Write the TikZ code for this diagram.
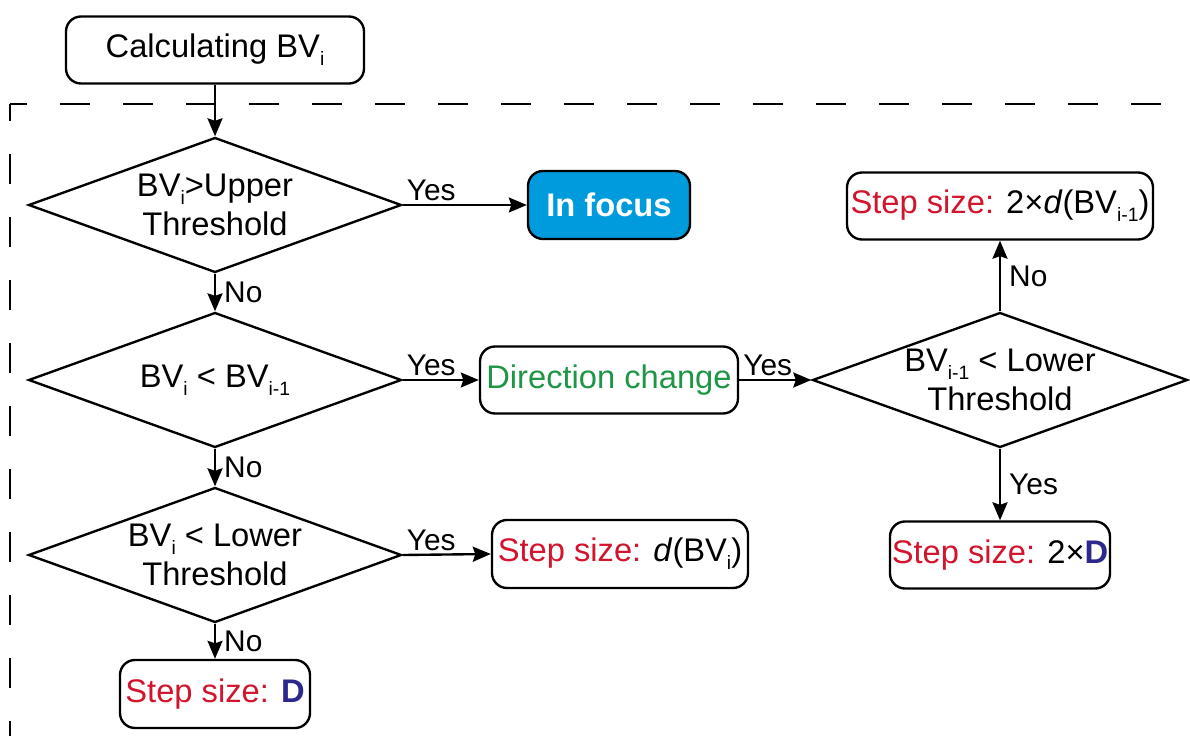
\documentclass[tikz,border=0pt]{standalone}
\usepackage{fontspec}
\setmainfont{Liberation Sans}
\usetikzlibrary{shapes.geometric,arrows.meta}
\definecolor{focusblue}{RGB}{0,155,220}
\definecolor{stepred}{RGB}{210,20,45}
\definecolor{dirgreen}{RGB}{30,150,70}
\definecolor{dblue}{RGB}{45,40,140}
\newcommand{\sbs}[1]{\raisebox{-0.45ex}{\fontsize{11}{11}\selectfont #1}}

\begin{document}
\begin{tikzpicture}[line width=1.35pt,
	box/.style={draw, rounded corners=0.3cm, minimum height=1.34cm, inner sep=0pt, font=\fontsize{18.6}{22}\selectfont},
	dia/.style={draw, diamond, aspect=2.76, minimum width=7.46cm, minimum height=2.7cm, inner sep=0pt},
	txt/.style={align=center, inner sep=0pt, font=\fontsize{18.6}{22}\selectfont},
	yeslbl/.style={font=\fontsize{17}{18}\selectfont, inner sep=0.06cm, pos=0, anchor=south west},
	nolbl/.style={font=\fontsize{17}{18}\selectfont, inner xsep=0.16cm, inner ysep=0pt, midway, right},
	arr/.style={-{Stealth[length=0.36cm, width=0.3cm, inset=0.05cm]}}]
		\useasboundingbox (0,0) rectangle (23.8,-14.72);

		\draw[dash pattern=on 0.6cm off 0.66cm, dash phase=0.26cm] (0.2,-2.08) -- (24,-2.08);
		\draw[dash pattern=on 0.6cm off 0.66cm, dash phase=0.26cm] (0.2,-2.08) -- (0.2,-15);

		\draw (4.3,-1.0) node[box, minimum width=5.96cm] (calc) {Calculating BV\sbs{i}};

		\draw (4.3,-4.1) node[dia] (upper) {};
		\draw (upper) node[txt] (uppertxt) {BV\sbs{i}>Upper\\Threshold};
		\draw (12.18,-4.1) node[box, minimum width=3.24cm, minimum height=1.36cm, fill=focusblue, text=white, font=\fontsize{18.6}{22}\selectfont\bfseries] (focus) {In focus};

		\draw (4.3,-7.6) node[dia] (prev) {};
		\draw (prev) node[txt] (prevtxt) {BV\sbs{i} < BV\sbs{i-1}};
		\draw (12.18,-7.6) node[box, minimum width=5.16cm, text=dirgreen] (dir) {Direction change};

		\draw (20.0,-7.6) node[dia, minimum width=7.5cm] (lowprev) {};
		\draw (lowprev) node[txt] (lowprevtxt) {BV\sbs{i-1} < Lower\\Threshold};
		\draw (20.0,-4.12) node[box, minimum width=6.12cm] (stepup) {{\color{stepred}Step size:} 2×\textit{d}(BV\sbs{i-1})};
		\draw (20.0,-11.1) node[box, minimum width=4.4cm] (steptwo) {{\color{stepred}Step size:} 2×{\color{dblue}\bfseries D}};

		\draw (4.3,-11.1) node[dia] (lower) {};
		\draw (lower) node[txt] (lowertxt) {BV\sbs{i} < Lower\\Threshold};
		\draw (12.4,-11.08) node[box, minimum width=5.12cm, minimum height=1.36cm] (stepd) {{\color{stepred}Step size:} \textit{d}(BV\sbs{i})};
		\draw (4.3,-13.88) node[box, minimum width=3.8cm, minimum height=1.36cm] (stepD) {{\color{stepred}Step size:} {\color{dblue}\bfseries D}};

		\draw[arr] (calc) -- (upper.north);
		\draw[arr] (upper.east) -- (focus.west) node[yeslbl] (yes1) {Yes};
		\draw[arr] (upper.south) -- (prev.north) node[nolbl] (no1) {No};
		\draw[arr] (prev.east) -- (dir.west) node[yeslbl] (yes2) {Yes};
		\draw[arr] (dir.east) -- (lowprev.west) node[yeslbl] (yes3) {Yes};
		\draw[arr] (lowprev.north) -- (stepup.south) node[nolbl] (no2) {No};
		\draw[arr] (lowprev.south) -- (steptwo.north) node[nolbl] (yes4) {Yes};
		\draw[arr] (prev.south) -- (lower.north) node[nolbl] (no3) {No};
		\draw[arr] (lower.east) -- (stepd.west) node[yeslbl] (yes5) {Yes};
		\draw[arr] (lower.south) -- (stepD.north) node[nolbl] (no4) {No};
	\end{tikzpicture}
\end{document}
